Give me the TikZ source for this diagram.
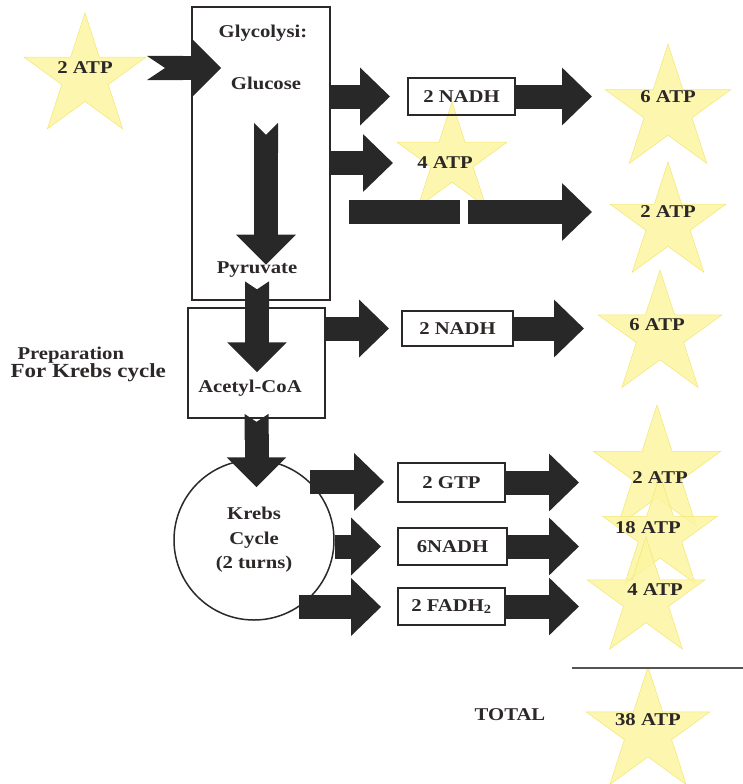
\documentclass[tikz,border=0pt]{standalone}
\usepackage{fontspec}
\setmainfont{Liberation Serif}[FakeStretch=1.15]
\usetikzlibrary{shapes.geometric, arrows.meta, calc}

\definecolor{starfill}{RGB}{252,245,160}
\definecolor{staredge}{RGB}{243,230,115}
\definecolor{arrowgray}{RGB}{40,40,40}
\definecolor{inkgray}{RGB}{45,40,40}

\tikzset{
  box/.style={draw=inkgray, line width=1.8pt, rectangle, inner sep=0pt},
  smallbox/.style={box, minimum width=107pt, minimum height=37pt},
  atpstar/.style={star, star points=5, star point ratio=2.618, minimum size=2*#1pt,
    inner sep=0pt, fill=starfill, draw=staredge, line width=0.5pt, fill opacity=0.85},
  fat/.style={draw=arrowgray, line width=24pt, -{Triangle[width=56pt,length=30pt]}},
  notch/.style={{Triangle Cap[reversed,length=#1]}-{Triangle[width=58pt,length=30pt]}},
}

\begin{document}
\begin{tikzpicture}[x=1pt, y=-1pt, font=\fontsize{18}{24}\selectfont\bfseries, text=inkgray]
  % Keep the page at the size of the scan
  \useasboundingbox (0,0) rectangle (743,784);

  % Draw the ATP stars first, so that everything else lies on top
  \foreach \name/\x/\y/\r in {atpIn/85/77/64, atpA/668/110/66, atpB/452/160/58,
      atpC/668/223/61, atpD/660/335/65, atpE/657/472/67, atpF/660/535/60,
      atpG/646/599/62, atpTot/648/732/65}
    \node[atpstar=\r] (\name) at (\x,\y) {};
  \foreach \name/\x/\y/\txt in {atpIn/85/68/2 ATP, atpA/668/97/6 ATP, atpB/445/163/4 ATP,
      atpC/668/212/2 ATP, atpD/657/325/6 ATP, atpE/660/478/2 ATP, atpF/648/528/18 ATP,
      atpG/655/590/4 ATP, atpTot/648/720/38 ATP}
    \node (\name T) at (\x,\y) {\txt};

  % Main boxes and the cycle
  \node[box, minimum width=138pt, minimum height=293pt] (glyc) at (261,153.5) {};
  \node[box, minimum width=137pt, minimum height=110pt] (acetyl) at (256.5,363) {};
  \node[circle, draw=inkgray, line width=1.5pt, minimum size=160pt, inner sep=0pt,
    align=center, font=\fontsize{18}{24.5}\selectfont\bfseries] (krebs) at (254,540)
    {Krebs\\Cycle\\(2 turns)};
  \node (glycT) at (263,33) {Glycolysi:};
  \node (glucose) at (266,83) {Glucose};
  \node (pyruvate) at (257,270) {Pyruvate};
  \node (acetylT) at (250,388) {Acetyl-CoA};

  % Product boxes
  \node[smallbox] (nadhA) at (461.5,96.5) {2 NADH};
  \node[smallbox, minimum width=111pt, minimum height=35pt] (nadhB) at (457.5,328.5) {2 NADH};
  \node[smallbox, minimum height=39pt] (gtp) at (451.5,482.5) {2 GTP};
  \node[smallbox, minimum width=109pt] (nadhC) at (452.5,546.5) {6NADH};
  \node[smallbox] (fadh) at (451.5,606.5) {2 FADH\textsubscript{2}};

  % Tip columns for the arrows on the right
  \coordinate (tipR) at (592,0);
  \coordinate (tipQ) at (584,0);
  \coordinate (tipS) at (579,0);
  \coordinate (gap) at (464,0);

  % Glycolysis: ATP in, products out
  \draw[fat, notch=18pt] ($(atpInT.center)+(62,0)$) -- ($(glyc.west |- atpInT.center)+(30,0)$);
  \draw[fat] (glyc.east |- nadhA.west) -- ($(nadhA.west)+(-17,0)$);
  \draw[fat] (glyc.east |- atpBT.center) -- ($(atpBT.center)+(-52,0)$);
  \draw[fat, -] ($(glyc.east |- atpCT.center)+(18,0)$) -- ($(gap |- atpCT.center)+(-4,0)$);
  \draw[fat] ($(gap |- atpCT.center)+(4,0)$) -- (tipR |- atpCT.center);
  \draw[fat] (nadhA.east) -- (tipR |- nadhA.east);

  % Down the middle
  \draw[fat, notch=12pt] ($(glucose.south)+(0,30)$) -- ($(glucose.south |- pyruvate.north)+(0,6)$);
  \draw[fat, notch=8pt] (pyruvate.south) -- ($(pyruvate.south |- acetylT.north)+(0,-4)$);
  \draw[fat, notch=8pt] ($(acetyl.south)+(0,-5)$) -- ($(acetyl.south |- krebs.north)+(0,28)$);

  % Preparation for Krebs cycle
  \draw[fat] (acetyl.east |- nadhB.west) -- ($(nadhB.west)+(-12,0)$);
  \draw[fat] (nadhB.east) -- (tipQ |- nadhB.east);

  % Krebs cycle products
  \draw[fat] (krebs.46) -- ($(gtp.west |- krebs.46)+(-13,0)$);
  \draw[fat] (krebs.east |- nadhC.west) -- ($(nadhC.west)+(-16,0)$);
  \draw[fat] (krebs.-56) -- ($(fadh.west |- krebs.-56)+(-16,0)$);
  \foreach \from in {gtp, nadhC, fadh}
    \draw[fat] (\from.east) -- (tipS |- \from.east);

  % Total
  \draw[inkgray!80, line width=1.8pt] (572,668) -- (743,668);
  \node (total) at (510,715) {TOTAL};

  % Side label
  \node[anchor=west, font=\fontsize{18}{20}\selectfont\bfseries] (prep) at (14,355) {Preparation};
  \node[anchor=west, font=\fontsize{20}{22}\selectfont\bfseries] (forkrebs) at (7,373) {For Krebs cycle};
\end{tikzpicture}
\end{document}
